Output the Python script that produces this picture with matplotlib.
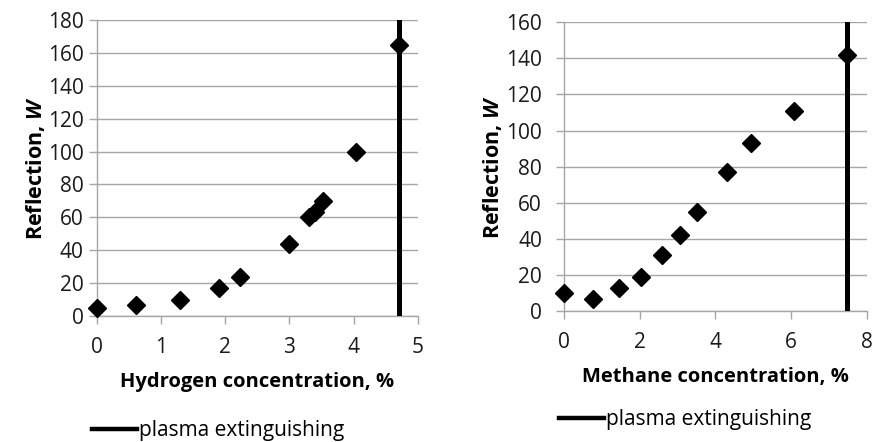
import matplotlib.pyplot as plt
from matplotlib.lines import Line2D

plt.rcParams['font.family'] = ['Open Sans', 'DejaVu Sans']
plt.rcParams['mathtext.fontset'] = 'custom'
plt.rcParams['mathtext.bfit'] = 'Open Sans:bold:italic'

# Hydrogen admixture
h2_conc = [0.0, 0.61, 1.30, 1.91, 2.23, 3.0, 3.30, 3.40, 3.53, 4.04, 4.71]
h2_refl = [5, 7, 10, 17, 24, 44, 60, 63, 70, 100, 165]
h2_extinguish = 4.71

# Methane admixture
ch4_conc = [0.0, 0.76, 1.45, 2.03, 2.59, 3.07, 3.50, 4.31, 4.95, 6.08, 7.47]
ch4_refl = [10, 7, 13, 19, 31, 42, 55, 77, 93, 111, 142]
ch4_extinguish = 7.47

GRID = '#a6a6a6'


def style_axes(ax, xmax, ymax, xstep, ystep, xlabel, ypad, ylabelpad):
    ax.set_xlim(0, xmax)
    ax.set_ylim(0, ymax)
    ax.set_xticks(range(0, xmax + 1, xstep))
    ax.set_yticks(range(0, ymax + 1, ystep))
    ax.grid(axis='y', color=GRID, lw=1)
    ax.set_axisbelow(True)
    for s in ('top', 'right'):
        ax.spines[s].set_visible(False)
    for s in ('left', 'bottom'):
        ax.spines[s].set_color(GRID)
        ax.spines[s].set_linewidth(1)
    ax.tick_params(axis='both', colors=GRID, labelcolor='#1a1a1a',
                   labelsize=15, length=6, width=1)
    ax.tick_params(axis='x', pad=9)
    ax.tick_params(axis='y', pad=ypad)
    ax.set_xlabel(xlabel, fontsize=14.5, fontweight='bold', labelpad=10)
    ax.set_ylabel(r'Reflection, $\mathbfit{W}$', fontsize=15.5,
                  fontweight='bold', labelpad=ylabelpad)


fig = plt.figure(figsize=(8.72, 4.42), dpi=100)

ax1 = fig.add_axes([0.111, 0.285, 0.368, 0.670])
ax1.plot(h2_conc, h2_refl, 'D', color='black', ms=9.5, clip_on=False, zorder=3)
ax1.axvline(h2_extinguish, color='black', lw=3.6, zorder=4)
style_axes(ax1, 5, 180, 1, 20, 'Hydrogen concentration, %', 3.5, 0.5)

ax2 = fig.add_axes([0.647, 0.296, 0.347, 0.654])
ax2.plot(ch4_conc, ch4_refl, 'D', color='black', ms=9.5, clip_on=False, zorder=3)
ax2.axvline(ch4_extinguish, color='black', lw=3.6, zorder=4)
style_axes(ax2, 8, 160, 2, 20, 'Methane concentration, %', 10, 1.5)

handle = Line2D([], [], color='black', lw=3.2)
fig.legend([handle], ['plasma extinguishing'], loc='center left',
           bbox_to_anchor=(0.094, 0.025), frameon=False, fontsize=15,
           borderpad=0, handlelength=2.15, handletextpad=0.1)
fig.legend([handle], ['plasma extinguishing'], loc='center left',
           bbox_to_anchor=(0.629, 0.050), frameon=False, fontsize=15,
           borderpad=0, handlelength=2.15, handletextpad=0.1)

fig.savefig('out.png', dpi=100)
